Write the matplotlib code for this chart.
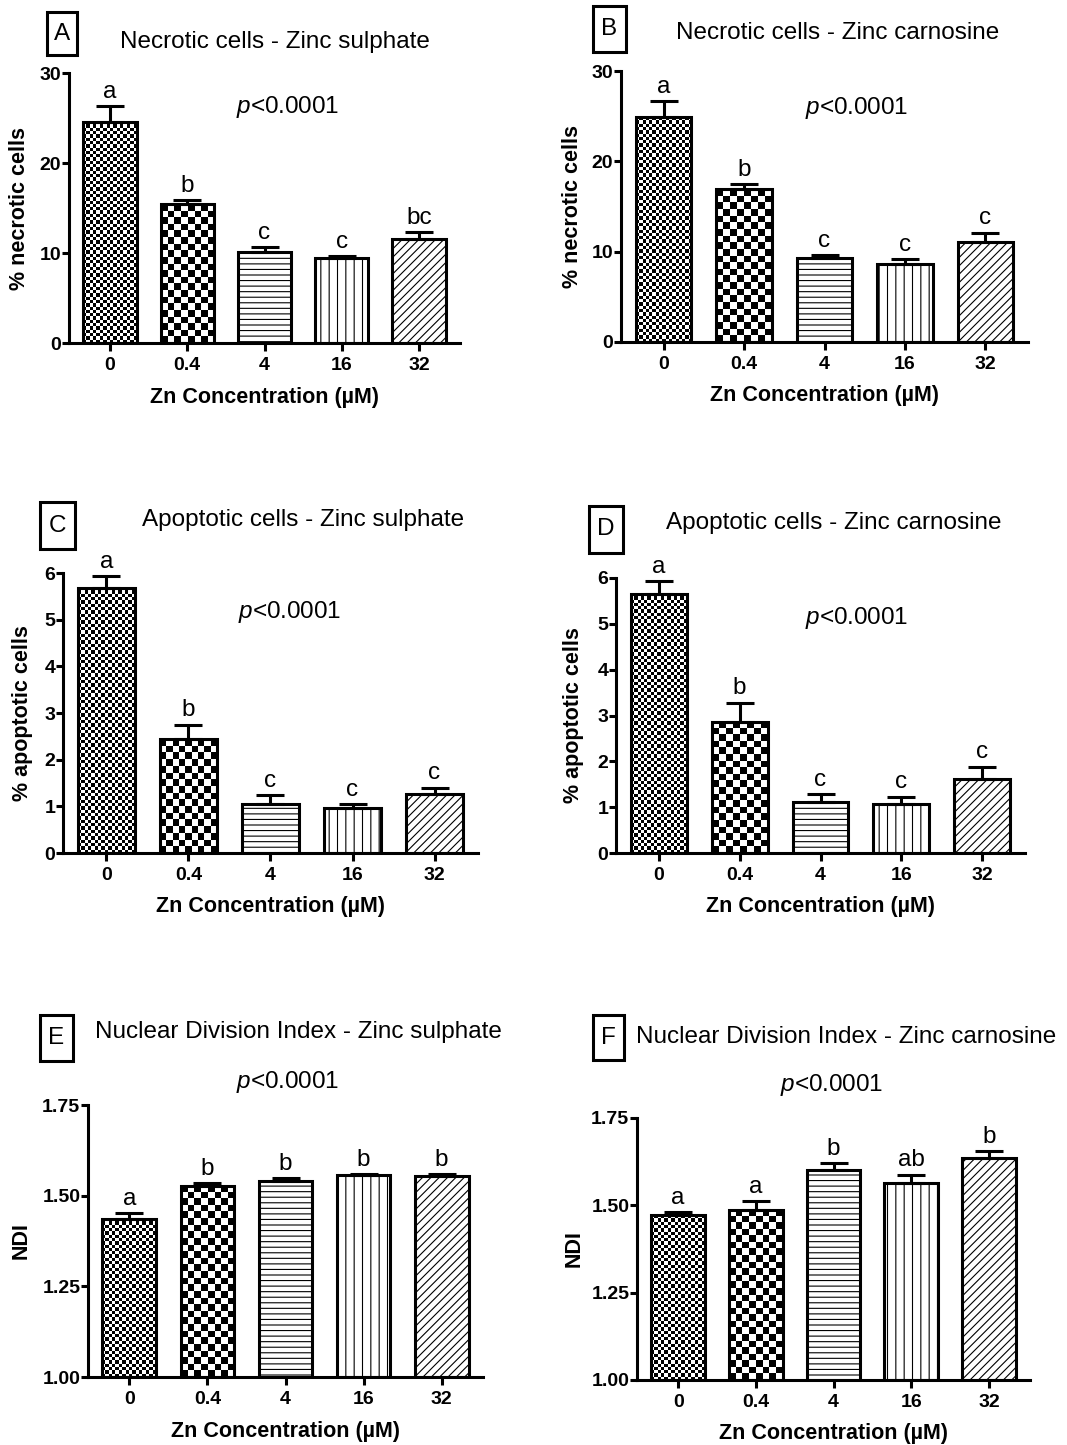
import numpy as np
import matplotlib
matplotlib.use('Agg')
import matplotlib.pyplot as plt
from matplotlib.patches import Rectangle

plt.rcParams['font.family'] = ['Liberation Sans', 'DejaVu Sans']
plt.rcParams['mathtext.fontset'] = 'custom'
plt.rcParams['mathtext.it'] = 'Liberation Sans:italic'
plt.rcParams['mathtext.rm'] = 'Liberation Sans'
plt.rcParams['hatch.linewidth'] = 0.8

# data
conc_labels = ['0', '0.4', '4', '16', '32']

necrotic_sulphate = [24.6, 15.4, 10.1, 9.5, 11.6]
necrotic_sulphate_sem = [1.7, 0.5, 0.52, 0.18, 0.74]
necrotic_sulphate_letters = ['a', 'b', 'c', 'c', 'bc']

necrotic_carnosine = [24.9, 16.9, 9.27, 8.6, 11.04]
necrotic_carnosine_sem = [1.73, 0.55, 0.36, 0.59, 1.06]
necrotic_carnosine_letters = ['a', 'b', 'c', 'c', 'c']

apoptotic_sulphate = [5.68, 2.44, 1.06, 0.955, 1.27]
apoptotic_sulphate_sem = [0.25, 0.31, 0.18, 0.085, 0.13]
apoptotic_sulphate_letters = ['a', 'b', 'c', 'c', 'c']

apoptotic_carnosine = [5.66, 2.86, 1.11, 1.06, 1.61]
apoptotic_carnosine_sem = [0.27, 0.42, 0.17, 0.17, 0.27]
apoptotic_carnosine_letters = ['a', 'b', 'c', 'c', 'c']

ndi_sulphate = [1.436, 1.527, 1.541, 1.557, 1.555]
ndi_sulphate_sem = [0.016, 0.008, 0.007, 0.003, 0.004]
ndi_sulphate_letters = ['a', 'b', 'b', 'b', 'b']

ndi_carnosine = [1.471, 1.487, 1.600, 1.564, 1.635]
ndi_carnosine_sem = [0.010, 0.024, 0.021, 0.024, 0.021]
ndi_carnosine_letters = ['a', 'a', 'b', 'ab', 'b']

W, H = 1067, 1445
fig = plt.figure(figsize=(W / 100, H / 100), dpi=100)

# fill style for each concentration
fills = [('checker', 3.3), ('checker', 6.6), ('hatch', '---'), ('hatch', '||'), ('hatch', '////')]


def checker(ax, bar, cell):
    # checkerboard image clipped to the bar
    x0, y0 = bar.get_x(), bar.get_y()
    x1, y1 = x0 + bar.get_width(), y0 + bar.get_height()
    (px0, py0), (px1, py1) = ax.transData.transform([(x0, y0), (x1, y1)])
    nx = max(1, int(round((px1 - px0) / cell)))
    ny = max(1, int(round((py1 - py0) / cell)))
    grid = np.indices((ny, nx)).sum(axis=0) % 2
    im = ax.imshow(grid, cmap='gray', vmin=0, vmax=1, extent=(x0, x1, y0, y1),
                   origin='lower', interpolation='nearest', aspect='auto', zorder=1.5)
    im.set_clip_path(bar)


def fig_text(px, py, s, **kw):
    fig.text(px / W, 1 - py / H, s, **kw)


# panel: tag, title, values, sem, letters, ylabel, yticks, axes box (px), tag box (px),
# title pos, p pos, ylabel x
panels = [
    ('A', 'Necrotic cells - Zinc sulphate', necrotic_sulphate, necrotic_sulphate_sem,
     necrotic_sulphate_letters, '% necrotic cells', [0, 10, 20, 30], '%d',
     (69, 73, 460, 343), (47, 12, 77, 55), (275, 42), (288, 107), 20),
    ('B', 'Necrotic cells - Zinc carnosine', necrotic_carnosine, necrotic_carnosine_sem,
     necrotic_carnosine_letters, '% necrotic cells', [0, 10, 20, 30], '%d',
     (621, 71, 1028, 342), (593, 6, 626, 52), (838, 33), (857, 108), 573),
    ('C', 'Apoptotic cells - Zinc sulphate', apoptotic_sulphate, apoptotic_sulphate_sem,
     apoptotic_sulphate_letters, '% apoptotic cells', [0, 1, 2, 3, 4, 5, 6], '%d',
     (63, 573, 478, 853), (40, 502, 75, 549), (303, 520), (290, 612), 23),
    ('D', 'Apoptotic cells - Zinc carnosine', apoptotic_carnosine, apoptotic_carnosine_sem,
     apoptotic_carnosine_letters, '% apoptotic cells', [0, 1, 2, 3, 4, 5, 6], '%d',
     (616, 578, 1025, 853), (589, 506, 623, 553), (834, 523), (857, 618), 574),
    ('E', 'Nuclear Division Index - Zinc sulphate', ndi_sulphate, ndi_sulphate_sem,
     ndi_sulphate_letters, 'NDI', [1.00, 1.25, 1.50, 1.75], '%.2f',
     (88, 1105, 483, 1377), (40, 1015, 73, 1061), (298, 1032), (288, 1082), 21),
    ('F', 'Nuclear Division Index - Zinc carnosine', ndi_carnosine, ndi_carnosine_sem,
     ndi_carnosine_letters, 'NDI', [1.00, 1.25, 1.50, 1.75], '%.2f',
     (637, 1118, 1030, 1380), (593, 1015, 624, 1060), (846, 1037), (832, 1085), 574),
]

lw = 2.2
for (tag, title, vals, sem, letters, ylab, yticks, fmt,
     box, tag_box, title_pos, p_pos, ylab_x) in panels:
    l, t, r, b = box
    ax = fig.add_axes([l / W, 1 - b / H, (r - l) / W, (b - t) / H])
    x = np.arange(len(conc_labels))
    base = yticks[0]
    ax.set_xlim(-0.53, 4.53)
    ax.set_ylim(base, yticks[-1])

    bars = ax.bar(x, np.array(vals) - base, bottom=base, width=0.69, color='white',
                  edgecolor='black', linewidth=lw, zorder=2)
    for bar, (kind, spec) in zip(bars, fills):
        if kind == 'checker':
            bar.set_facecolor('none')
            checker(ax, bar, spec)
        else:
            bar.set_hatch(spec)
    ax.set_xlim(-0.53, 4.53)
    ax.set_ylim(base, yticks[-1])

    ax.errorbar(x, vals, yerr=[np.zeros(len(vals)), sem], fmt='none', ecolor='black',
                elinewidth=lw, capsize=10, capthick=lw, zorder=3, clip_on=False)
    for xi, v, s, lt in zip(x, vals, sem, letters):
        ax.annotate(lt, (xi, v + s), xytext=(0, 6), textcoords='offset points',
                    ha='center', va='baseline', fontsize=17.5)

    for side in ['top', 'right']:
        ax.spines[side].set_visible(False)
    for side in ['left', 'bottom']:
        ax.spines[side].set_linewidth(lw)
    ax.set_xticks(x)
    ax.set_xticklabels(conc_labels, fontsize=14, fontweight='bold')
    ax.set_yticks(yticks)
    ax.set_yticklabels([fmt % v for v in yticks], fontsize=14, fontweight='bold')
    ax.tick_params(axis='x', length=6, width=lw, pad=4)
    ax.tick_params(axis='y', length=5, width=lw, pad=0.5)

    fig_text(ylab_x, (t + b) / 2, ylab, rotation=90, ha='center', va='center',
             fontsize=15.5, fontweight='bold')
    fig_text((l + r) / 2, b + 54, 'Zn Concentration (µM)', ha='center', va='center',
             fontsize=15.5, fontweight='bold')

    bl, bt, br, bb = tag_box
    fig.add_artist(Rectangle((bl / W, 1 - bb / H), (br - bl) / W, (bb - bt) / H,
                             transform=fig.transFigure, facecolor='white',
                             edgecolor='black', linewidth=lw))
    fig_text((bl + br) / 2, (bt + bb) / 2, tag, ha='center', va='center', fontsize=17.5)
    fig_text(title_pos[0], title_pos[1], title, ha='center', va='center', fontsize=17.5)
    fig_text(p_pos[0], p_pos[1], '$p$<0.0001', ha='center', va='center', fontsize=17.5)

fig.savefig('out.png', dpi=100, facecolor='white')
